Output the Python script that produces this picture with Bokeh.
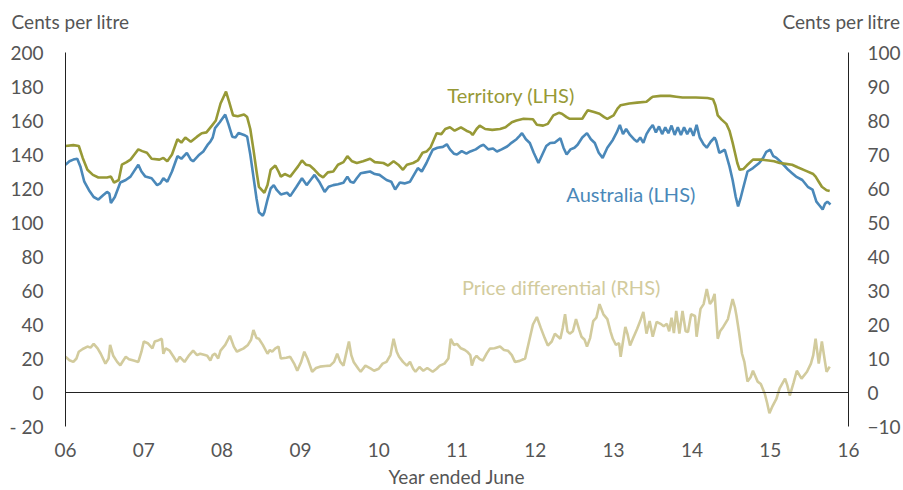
from bokeh.plotting import figure
from bokeh.models import Range1d, LinearAxis, FixedTicker, Label, Span
from bokeh.embed import file_html
from bokeh.resources import INLINE

# ---------------- data ----------------
terr_x = [6.00, 6.10, 6.17, 6.22, 6.28, 6.35, 6.42, 6.53, 6.58, 6.62, 6.68, 6.72, 6.78, 6.83, 6.88, 6.93, 6.98,
          7.04, 7.10, 7.20, 7.25, 7.30, 7.36, 7.43, 7.48, 7.53, 7.60, 7.68, 7.74, 7.80, 7.87, 7.92, 7.98,
          8.05, 8.09, 8.14, 8.20, 8.28, 8.32, 8.36, 8.40, 8.44, 8.47, 8.54, 8.58, 8.62, 8.68, 8.72, 8.75,
          8.80, 8.87, 8.92, 8.97, 9.02, 9.07, 9.12, 9.18, 9.24, 9.29, 9.35, 9.42, 9.48, 9.55, 9.60, 9.66,
          9.72, 9.80, 9.89, 9.95, 10.06, 10.12, 10.19, 10.25, 10.31, 10.36, 10.44, 10.50, 10.56, 10.61,
          10.66, 10.74, 10.80, 10.85, 10.91, 10.97, 11.05, 11.12, 11.17, 11.20, 11.25, 11.29, 11.36, 11.45,
          11.55, 11.62, 11.70, 11.76, 11.85, 11.97, 12.02, 12.10, 12.16, 12.23, 12.30, 12.34, 12.40, 12.44,
          12.52, 12.60, 12.64, 12.67, 12.75, 12.82, 12.88, 12.92, 13.00, 13.05, 13.09, 13.20, 13.30, 13.42,
          13.47, 13.50, 13.60, 13.72, 13.80, 13.88, 14.05, 14.20, 14.27, 14.30, 14.33, 14.38, 14.44, 14.48,
          14.52, 14.55, 14.58, 14.61, 14.66, 14.70, 14.78, 14.88, 14.98, 15.05, 15.12, 15.20, 15.28, 15.35,
          15.45, 15.55, 15.58, 15.62, 15.66, 15.72, 15.76]
terr_y = [145, 145.5, 145, 138, 131, 128, 126.5, 126.5, 127, 123.5, 125, 134, 135.5, 137, 140, 143, 142,
          141, 137.5, 137, 138, 136, 140, 149, 147, 150, 147.5, 150.5, 152.5, 153, 157, 160, 170,
          177, 171, 163, 162.5, 163.5, 162, 155, 143, 130, 121, 117.5, 122, 131, 133.5, 130, 127,
          128.5, 127, 130, 133, 136.5, 134, 133.5, 131, 128, 126.5, 129.5, 130, 134, 135.5, 139, 136,
          135, 136, 137.5, 135.5, 135, 133.5, 136, 134, 131, 134, 135, 136.5, 141, 141.7,
          144, 152.5, 152, 155, 156, 154, 156, 154, 153, 151.5, 155, 157, 155, 154.5,
          155, 156, 159, 160, 161, 160.7, 157.5, 157, 158, 163, 164.5, 164, 162, 161,
          161, 161, 164, 166, 165, 164, 162, 161, 163, 167, 169, 170, 170.5, 171,
          173, 174, 174.5, 174.5, 174, 173.5, 173.5, 173.2, 172.5, 169, 163, 160.5, 158, 154,
          147, 141, 135, 131, 131.5, 133.5, 137, 137, 136.5, 136, 135, 134.5, 134, 132.5,
          130.5, 128.5, 127, 124, 121, 119, 118.5]

aus_x = [6.00, 6.05, 6.10, 6.15, 6.19, 6.24, 6.30, 6.36, 6.42, 6.48, 6.53, 6.56, 6.58, 6.63, 6.70, 6.77, 6.83,
         6.88, 6.93, 6.97, 7.02, 7.10, 7.17, 7.21, 7.25, 7.30, 7.36, 7.43, 7.48, 7.55, 7.60, 7.63, 7.70,
         7.76, 7.82, 7.85, 7.88, 7.91, 7.97, 8.04, 8.08, 8.13, 8.17, 8.21, 8.28, 8.32, 8.36, 8.40, 8.44,
         8.47, 8.52, 8.54, 8.58, 8.62, 8.66, 8.70, 8.75, 8.83, 8.87, 8.95, 9.02, 9.08, 9.13, 9.18, 9.24,
         9.31, 9.36, 9.42, 9.48, 9.55, 9.60, 9.64, 9.68, 9.72, 9.77, 9.83, 9.89, 9.95, 10.01, 10.10, 10.16,
         10.21, 10.27, 10.33, 10.40, 10.45, 10.50, 10.55, 10.61, 10.65, 10.69, 10.75, 10.82, 10.87, 10.91,
         10.96, 11.00, 11.06, 11.12, 11.17, 11.24, 11.30, 11.34, 11.40, 11.46, 11.51, 11.57, 11.64, 11.70,
         11.76, 11.80, 11.83, 11.88, 11.93, 11.98, 12.04, 12.09, 12.14, 12.19, 12.25, 12.32, 12.36, 12.40,
         12.45, 12.50, 12.54, 12.60, 12.66, 12.71, 12.76, 12.81, 12.86, 12.92, 12.99, 13.04, 13.08, 13.12,
         13.16, 13.21, 13.26, 13.30, 13.34, 13.38, 13.42, 13.46, 13.50, 13.54, 13.58, 13.62, 13.66, 13.70,
         13.74, 13.78, 13.82, 13.86, 13.90, 13.94, 13.98, 14.02, 14.06, 14.10, 14.15, 14.19, 14.24, 14.29,
         14.31, 14.35, 14.42, 14.48, 14.52, 14.56, 14.59, 14.62, 14.65, 14.71, 14.78, 14.86, 14.91, 14.95,
         15.00, 15.04, 15.08, 15.15, 15.23, 15.28, 15.33, 15.41, 15.48, 15.54, 15.59, 15.63, 15.67, 15.70,
         15.73, 15.77]
aus_y = [134, 136, 137, 137.5, 133, 124, 119, 115, 113.5, 116, 118, 117, 111.5, 115, 123.5, 125, 127,
         130.5, 134, 130, 127, 126, 122, 123, 126, 124, 130, 139, 137.5, 141, 137, 136, 139.5,
         141.8, 146, 147.6, 150, 155.5, 159, 163.5, 158, 150.5, 150, 152.6, 151.5, 150.5, 140, 127, 114,
         106, 104, 106, 113.5, 120, 122, 119, 116.5, 117.5, 115.5, 121, 126, 122, 125, 128, 124,
         118, 121, 122, 122.5, 123.4, 127, 124, 123.4, 126, 129, 129.5, 130, 128.5, 128, 125, 124,
         119.4, 123.5, 123, 124, 128, 132, 130, 135, 139, 142.8, 144, 144.5, 146, 143,
         140.5, 140, 142, 140.5, 141.8, 143, 145, 145.7, 143, 143.5, 141.8, 143, 144.7, 147,
         149, 151, 152.6, 149, 146.8, 141, 135, 140, 145, 146.8, 147, 149.6, 144, 140,
         143, 144, 145.7, 150, 152.6, 149, 146.8, 141, 138, 144, 148.6, 153, 157.4, 152,
         155, 151.5, 149, 147.5, 150, 146.8, 152, 155, 157.4, 153, 156.5, 152, 156, 152.5,
         157, 151.5, 156, 151.5, 156, 152, 155.5, 151, 157.4, 150, 146, 144, 147.5, 150,
         148, 141, 142.8, 133, 125, 115, 109.5, 114, 119.4, 130, 132, 135, 138, 141.6,
         142.8, 139, 138, 135, 131, 129, 127, 125, 121, 119.4, 112.3, 110, 107.7, 111,
         112.3, 110.6]

diff_x = [6.00, 6.05, 6.10, 6.14, 6.17, 6.22, 6.28, 6.32, 6.36, 6.41, 6.45, 6.51, 6.55, 6.57, 6.61, 6.66, 6.70,
          6.74, 6.77, 6.81, 6.87, 6.93, 6.97, 7.00, 7.05, 7.11, 7.14, 7.17, 7.23, 7.25, 7.28, 7.33, 7.38,
          7.42, 7.46, 7.52, 7.58, 7.63, 7.68, 7.72, 7.78, 7.81, 7.85, 7.88, 7.91, 7.95, 7.98, 8.04, 8.10,
          8.15, 8.19, 8.23, 8.27, 8.33, 8.37, 8.40, 8.44, 8.47, 8.52, 8.58, 8.61, 8.64, 8.68, 8.72, 8.75,
          8.82, 8.87, 8.92, 8.96, 9.01, 9.05, 9.09, 9.15, 9.20, 9.25, 9.32, 9.38, 9.43, 9.47, 9.51, 9.55,
          9.58, 9.62, 9.65, 9.68, 9.74, 9.77, 9.83, 9.90, 9.94, 10.00, 10.05, 10.10, 10.15, 10.19, 10.23,
          10.26, 10.31, 10.36, 10.40, 10.44, 10.47, 10.52, 10.57, 10.62, 10.69, 10.74, 10.78, 10.84, 10.89,
          10.92, 10.96, 11.00, 11.05, 11.10, 11.13, 11.17, 11.19, 11.22, 11.25, 11.29, 11.33, 11.38, 11.42,
          11.48, 11.55, 11.60, 11.65, 11.70, 11.74, 11.80, 11.87, 11.92, 11.97, 12.02, 12.07, 12.12, 12.16,
          12.21, 12.25, 12.32, 12.35, 12.38, 12.41, 12.44, 12.48, 12.52, 12.56, 12.59, 12.63, 12.66, 12.70,
          12.74, 12.78, 12.82, 12.87, 12.92, 12.96, 12.99, 13.03, 13.07, 13.09, 13.12, 13.15, 13.18, 13.21,
          13.25, 13.30, 13.34, 13.38, 13.42, 13.46, 13.50, 13.55, 13.60, 13.64, 13.68, 13.71, 13.74, 13.77,
          13.80, 13.84, 13.88, 13.92, 13.95, 13.99, 14.04, 14.06, 14.11, 14.15, 14.19, 14.23, 14.26, 14.29,
          14.33, 14.36, 14.40, 14.46, 14.52, 14.55, 14.57, 14.60, 14.64, 14.67, 14.71, 14.75, 14.78, 14.84,
          14.88, 14.93, 14.96, 14.99, 15.03, 15.08, 15.12, 15.19, 15.22, 15.25, 15.30, 15.34, 15.40, 15.47,
          15.52, 15.55, 15.58, 15.62, 15.66, 15.70, 15.72, 15.76]
diff_y = [10.5, 9.5, 9, 10, 12, 12.8, 13.5, 13.2, 14.3, 13, 11.4, 8.5, 10, 14, 10.8, 9, 8,
          9.5, 10.5, 9.8, 9.4, 9, 12, 15, 14.5, 13, 15, 15.2, 15.8, 11.4, 13, 12.3, 10.5,
          9, 10.5, 9, 11, 12.3, 11, 11.4, 11, 10.8, 9.4, 11, 11.4, 10, 12.3, 14, 16.7,
          13.5, 12, 12.5, 12.9, 14, 15.5, 18.4, 16, 15.8, 14, 11.4, 12.5, 12, 13, 13.5, 10,
          10.2, 10.5, 8.5, 6.4, 9, 12, 10, 6.1, 7.2, 7.6, 7.8, 7.9, 9, 11.4, 9, 7.9,
          11, 15, 11, 9, 7, 6.1, 7.9, 7, 6.4, 7, 8.5, 9, 11, 15.8, 12,
          10.5, 9, 7.9, 9, 7, 6.1, 7.5, 6.4, 7.2, 6.1, 7, 7.9, 8.5, 10,
          15.8, 14, 14.3, 13, 12.5, 12, 11, 7.9, 10, 10.8, 9.8, 9.4, 11.5, 12.9,
          13, 13.5, 12.5, 12.3, 11, 9, 9.3, 10, 15, 20, 22.2, 19, 16, 13.8,
          15, 17.3, 15.8, 19, 23, 18, 17.3, 18, 21.6, 18.5, 16.4, 15.5, 13.5, 16,
          21, 22, 26, 23, 21.6, 18, 15.8, 14, 14.5, 10.5, 15, 19.3, 17, 13.8,
          16, 18.7, 21, 23.7, 17.3, 21, 16.4, 20.8, 20.2, 19.5, 20.2, 18, 22, 17.5,
          24, 17.3, 24, 18, 17.8, 23, 22.5, 16.4, 24.6, 26, 30.4, 26, 27, 29,
          15.8, 18, 19.3, 21.6, 27.5, 25, 22.5, 18, 11.4, 9, 3.2, 4.5, 6.4, 3.2,
          2.5, -0.3, -3, -6.1, -4, -1.8, 1.2, 4.1, 2, -0.9, 3, 6.4, 4.1, 6.1,
          8.5, 11, 15.8, 8.5, 15, 9, 6.1, 7.6]

x_ticks = [6, 7, 8, 9, 10, 11, 12, 13, 14, 15, 16]
x_tick_labels = ["06", "07", "08", "09", "10", "11", "12", "13", "14", "15", "16"]
lhs_ticks = [-20, 0, 20, 40, 60, 80, 100, 120, 140, 160, 180, 200]
rhs_ticks = [-10, 0, 10, 20, 30, 40, 50, 60, 70, 80, 90, 100]
unit_text = "Cents per litre"
x_title = "Year ended June"

# ---------------- styles ----------------
FONT = "Lato"
TXT = "#555555"
C_TERR = "#979936"
C_AUS = "#4a88b9"
C_DIFF = "#d2cb9d"
FS = "19px"


def plain_axis(ax, standoff):
    ax.major_tick_line_color = None
    ax.minor_tick_line_color = None
    ax.major_tick_out = 0
    ax.major_tick_in = 0
    ax.minor_tick_out = 0
    ax.minor_tick_in = 0
    ax.major_label_standoff = standoff
    ax.major_label_text_font = FONT
    ax.major_label_text_font_size = FS
    ax.major_label_text_color = TXT


p = figure(width=903, height=490, output_backend="svg", toolbar_location=None,
           x_range=Range1d(6, 16), y_range=Range1d(-20, 200),
           min_border_left=65, min_border_right=54, min_border_top=52, min_border_bottom=62)
p.outline_line_color = None
p.grid.grid_line_color = None
p.background_fill_color = "white"
p.border_fill_color = "white"

p.extra_y_ranges = {"rhs": Range1d(-10, 100)}

# left axis
la = p.yaxis[0]
la.ticker = FixedTicker(ticks=lhs_ticks)
la.major_label_overrides = {-20: "- 20"}
la.axis_line_color = "#222222"
la.axis_line_width = 1
plain_axis(la, 22)

# right axis
ra = LinearAxis(y_range_name="rhs", ticker=FixedTicker(ticks=rhs_ticks))
ra.axis_line_color = "#222222"
plain_axis(ra, 19)
p.add_layout(ra, "right")

# bottom axis
ba = p.xaxis[0]
ba.ticker = FixedTicker(ticks=x_ticks)
ba.major_label_overrides = {t: s for t, s in zip(x_ticks, x_tick_labels)}
ba.axis_line_color = None
plain_axis(ba, 16)
ba.axis_label = x_title
ba.axis_label_standoff = 5
ba.axis_label_text_font = FONT
ba.axis_label_text_font_size = FS
ba.axis_label_text_font_style = "normal"
ba.axis_label_text_color = TXT

# top "axis" used only to place the two unit labels above the frame
unit_pos = [6.064, 15.91]
ta = LinearAxis(ticker=FixedTicker(ticks=unit_pos))
ta.major_label_overrides = {v: unit_text for v in unit_pos}
ta.axis_line_color = None
plain_axis(ta, 20)
p.add_layout(ta, "above")

# zero line
p.add_layout(Span(location=0, dimension="width", line_color="#222222", line_width=1))

# series
p.line(diff_x, diff_y, y_range_name="rhs", line_color=C_DIFF, line_width=2.6)
p.line(aus_x, aus_y, line_color=C_AUS, line_width=2.6)
p.line(terr_x, terr_y, line_color=C_TERR, line_width=2.6)

# series labels
p.add_layout(Label(x=11.69, y=175, text="Territory (LHS)", text_color=C_TERR, text_font=FONT,
                   text_font_size="20px", text_align="center", text_baseline="middle"))
p.add_layout(Label(x=13.22, y=116.5, text="Australia (LHS)", text_color=C_AUS, text_font=FONT,
                   text_font_size="20px", text_align="center", text_baseline="middle"))
p.add_layout(Label(x=12.33, y=62, text="Price differential (RHS)", text_color=C_DIFF, text_font=FONT,
                   text_font_size="20px", text_align="center", text_baseline="middle"))

open("out.html", "w").write(file_html(p, INLINE))
